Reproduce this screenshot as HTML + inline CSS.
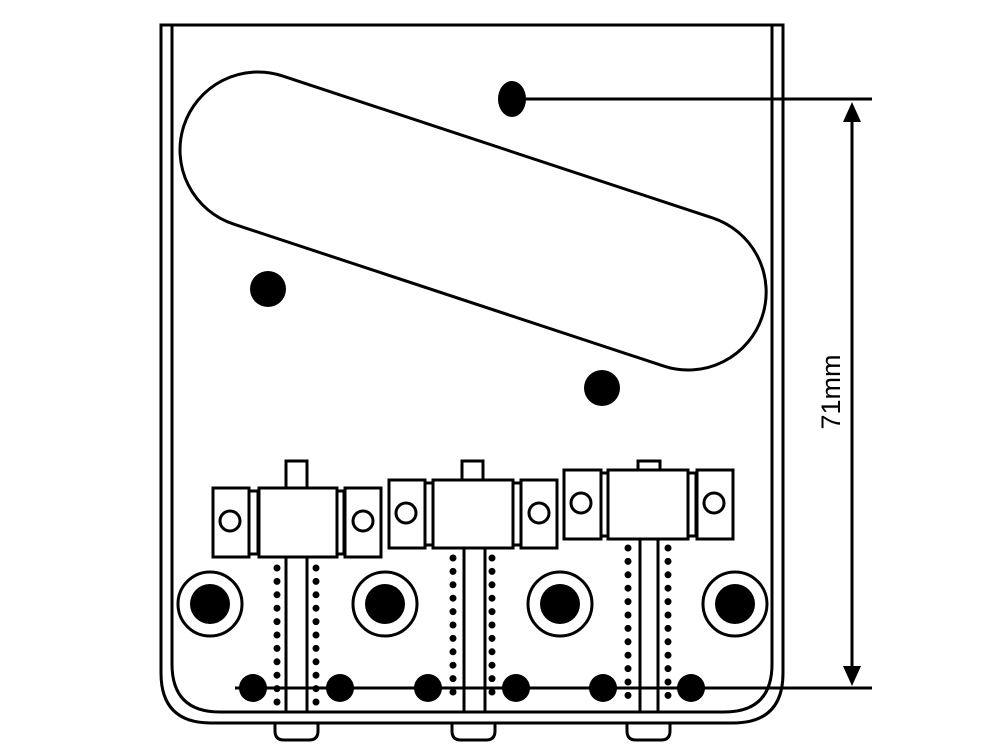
<!DOCTYPE html>
<html><head><style>html,body{margin:0;padding:0;background:#fff}svg{display:block}</style></head><body>
<svg width="1000" height="750" viewBox="0 0 1000 750" xmlns="http://www.w3.org/2000/svg">
<g fill="none" stroke="#000" stroke-width="3">
<!-- plate outer -->
<path d="M161 25 H783 V673 Q783 723 733 723 H211 Q161 723 161 673 Z"/>
<!-- inner lines -->
<path d="M172 25 V664 Q172 712 220 712 H724 Q772 712 772 664 V25"/>
<!-- bottom tabs -->
<path d="M275 723 V731 Q275 740 284 740 H309 Q318 740 318 731 V723"/>
<path d="M452 723 V731 Q452 740 461 740 H486 Q495 740 495 731 V723"/>
<path d="M627 723 V731 Q627 740 636 740 H661 Q670 740 670 731 V723"/>
<!-- pickup -->
<g transform="translate(258,150) rotate(18.27)">
<rect x="-78" y="-78" width="609" height="156" rx="78" ry="78"/>
</g>
</g>
<g fill="#000">
<ellipse cx="512" cy="99" rx="14" ry="18"/>
<circle cx="268" cy="289" r="18"/>
<circle cx="602" cy="388" r="18"/>
</g>
<!-- dimension -->
<g stroke="#000" stroke-width="3" fill="none">
<line x1="525" y1="99" x2="872" y2="99"/>
<line x1="235" y1="688" x2="872" y2="688"/>
<line x1="852" y1="118" x2="852" y2="668"/>
</g>
<polygon points="852,102 843,122 861,122" fill="#000"/>
<polygon points="852,686 843,666 861,666" fill="#000"/>
<text transform="translate(840,392) rotate(-90)" text-anchor="middle" font-family="Liberation Sans, sans-serif" font-size="27" fill="#000">71mm</text>
<!-- saddles -->
<g stroke="#000" stroke-width="3" fill="#fff">
<!-- group 1 -->
<rect x="286" y="461" width="21" height="27"/>
<rect x="213" y="488" width="36" height="69"/>
<rect x="249" y="491" width="9" height="63"/>
<rect x="259" y="488" width="78" height="69"/>
<rect x="337" y="491" width="7" height="63"/>
<rect x="345" y="488" width="36" height="69"/>
<circle cx="230" cy="521" r="10"/>
<circle cx="363" cy="521" r="10"/>
<!-- group 2 -->
<rect x="462" y="461" width="21" height="19"/>
<rect x="389" y="480" width="36" height="68"/>
<rect x="425" y="483" width="8" height="62"/>
<rect x="433" y="480" width="80" height="68"/>
<rect x="513" y="483" width="8" height="62"/>
<rect x="521" y="480" width="36" height="68"/>
<circle cx="406" cy="513" r="10"/>
<circle cx="539" cy="513" r="10"/>
<!-- group 3 -->
<rect x="638" y="461" width="22" height="10"/>
<rect x="564" y="470" width="37" height="69"/>
<rect x="601" y="473" width="7" height="63"/>
<rect x="608" y="470" width="80" height="69"/>
<rect x="688" y="473" width="8" height="63"/>
<rect x="697" y="470" width="36" height="69"/>
<circle cx="581" cy="503" r="10"/>
<circle cx="714" cy="503" r="10"/>
</g>
<!-- stems -->
<g stroke="#000" stroke-width="3">
<line x1="286" y1="557" x2="286" y2="712"/><line x1="307" y1="557" x2="307" y2="712"/>
<line x1="464" y1="548" x2="464" y2="712"/><line x1="485" y1="548" x2="485" y2="712"/>
<line x1="640" y1="539" x2="640" y2="712"/><line x1="658" y1="539" x2="658" y2="712"/>
</g>
<!-- dotted columns -->
<g stroke="#000" stroke-width="7" stroke-linecap="round" stroke-dasharray="0 13.4">
<line x1="277" y1="568" x2="277" y2="704"/>
<line x1="316" y1="568" x2="316" y2="704"/>
<line x1="453" y1="558" x2="453" y2="704"/>
<line x1="492" y1="558" x2="492" y2="704"/>
<line x1="628" y1="548" x2="628" y2="704"/>
<line x1="668" y1="548" x2="668" y2="704"/>
</g>
<!-- rings -->
<g>
<circle cx="210" cy="604" r="32" fill="#fff" stroke="#000" stroke-width="3"/><circle cx="210" cy="604" r="20" fill="#000"/>
<circle cx="385" cy="604" r="32" fill="#fff" stroke="#000" stroke-width="3"/><circle cx="385" cy="604" r="20" fill="#000"/>
<circle cx="560" cy="604" r="32" fill="#fff" stroke="#000" stroke-width="3"/><circle cx="560" cy="604" r="20" fill="#000"/>
<circle cx="735" cy="604" r="32" fill="#fff" stroke="#000" stroke-width="3"/><circle cx="735" cy="604" r="20" fill="#000"/>
</g>
<g fill="#000">
<circle cx="253" cy="688" r="14"/><circle cx="340" cy="688" r="14"/>
<circle cx="428" cy="688" r="14"/><circle cx="516" cy="688" r="14"/>
<circle cx="603" cy="688" r="14"/><circle cx="691" cy="688" r="14"/>
</g>
</svg>
</body></html>
